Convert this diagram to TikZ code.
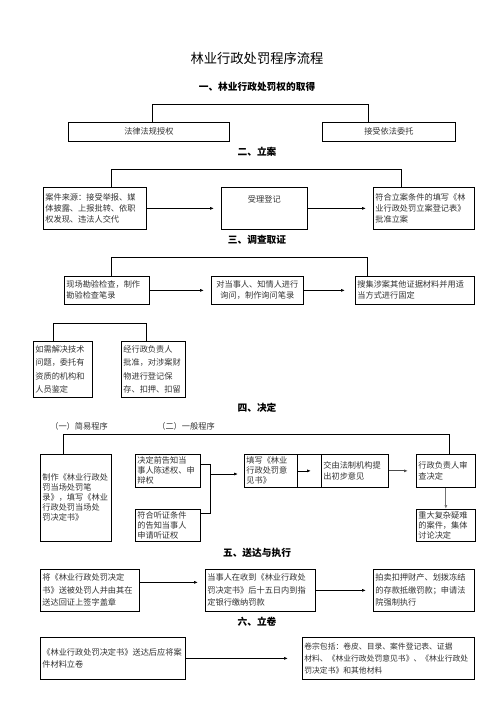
\documentclass[tikz,border=0pt]{standalone}
\usepackage{fontspec}
\setmainfont{Noto Sans CJK SC}
\usepackage{tikz}
\usetikzlibrary{calc}
\usetikzlibrary{arrows.meta}

\begin{document}
\begin{tikzpicture}[x=1pt,y=-1pt,
        box/.style={draw,line width=0.7pt,anchor=north west,inner sep=2pt,align=left,
            font=\fontsize{8.2}{11}\selectfont,text=black!80},
        head/.style={font=\fontsize{9.7}{11}\selectfont\bfseries},
        fleche/.style={-{Latex[length=4pt,width=3pt]},line width=0.7pt},
        crochet/.style={line width=0.7pt}]
    \useasboundingbox (0,0) rectangle (502,728);

    \node[font=\fontsize{13.3}{15}\selectfont] (titre) at (257,58) {林业行政处罚程序流程};

    % un
    \node[head] (h1) at (257,87) {一、林业行政处罚权的取得};
    \node[box,align=center,text width=157pt,minimum height=19pt] (loi) at (68,122) {法律法规授权};
    \node[box,align=center,text width=129pt,minimum height=19pt] (mandat) at (322,122) {接受依法委托};
    \draw[crochet] ($(loi.north west)!.52!(loi.north east)$) -- ++(0,-18) -| ($(mandat.north west)!.35!(mandat.north east)$);

    % deux
    \node[head] (h2) at (257,152) {二、立案};
    \node[box,text width=99pt,minimum height=42pt] (source) at (43,187) {案件来源：接受举报、媒\\体披露、上报批转、依职\\权发现、违法人交代};
    \node[box,align=center,text width=82pt,minimum height=42pt,text height=11pt,text depth=23pt] (enreg) at (221,187) {受理登记};
    \node[box,text width=97pt,minimum height=42pt] (dossier) at (373,187) {符合立案条件的填写《林\\业行政处罚立案登记表》\\批准立案};
    \draw[crochet] ($(source.north west)!.66!(source.north east)$) -- ++(0,-18) -| ($(dossier.north west)!.28!(dossier.north east)$);
    \draw[fleche,shorten >=7pt] (source) -- (enreg);
    \draw[fleche,shorten >=7pt] (enreg) -- (dossier);

    % trois
    \node[head] (h3) at (257,240) {三、调查取证};
    \node[box,text width=81pt,minimum height=28pt] (terrain) at (64,276) {现场勘验检查，制作\\勘验检查笔录};
    \node[box,align=center,text width=88pt,minimum height=28pt] (audition) at (211,276) {对当事人、知情人进行\\询问，制作询问笔录};
    \node[box,text width=115pt,minimum height=28pt] (preuves) at (355,276) {搜集涉案其他证据材料并用适\\当方式进行固定};
    \draw[crochet] ($(terrain.north west)!.55!(terrain.north east)$) -- ++(0,-19) -| ($(preuves.north west)!.10!(preuves.north east)$);
    \draw[fleche,shorten >=7pt] (terrain) -- (audition);
    \draw[fleche,shorten >=10pt] (audition) -- (preuves);
    \node[box,text width=55pt,minimum height=56pt,font=\fontsize{8.2}{13.5}\selectfont] (expert) at (33,341) {如需解决技术\\问题，委托有\\资质的机构和\\人员鉴定};
    \node[box,text width=60pt,minimum height=56pt,font=\fontsize{8.2}{13.5}\selectfont] (saisie) at (121,341) {经行政负责人\\批准，对涉案财\\物进行登记保\\存、扣押、扣留};
    \draw[crochet] ($(expert.north west)!.34!(expert.north east)$) -- ++(0,-18) -| ($(saisie.north west)!.39!(saisie.north east)$);

    % quatre
    \node[head] (h4) at (257,408) {四、决定};
    \node[font=\fontsize{8.2}{10}\selectfont,text=black!80] (simple) at (79,426) {（一）简易程序};
    \node[font=\fontsize{8.2}{10}\selectfont,text=black!80] (general) at (186,426) {（二）一般程序};
    \node[box,text width=67pt,minimum height=87pt,font=\fontsize{8.2}{10}\selectfont] (surplace) at (40,454) {制作《林业行政处\\罚当场处罚笔\\录》，填写《林业\\行政处罚当场处\\罚决定书》};
    \node[box,text width=61pt,minimum height=33pt,font=\fontsize{8.2}{10}\selectfont] (avis) at (135,454) {决定前告知当\\事人陈述权、申\\辩权};
    \node[box,text width=61pt,minimum height=32pt,font=\fontsize{8.2}{10}\selectfont] (ecoute) at (135,509) {符合听证条件\\的告知当事人\\申请听证权};
    \node[box,text width=49pt,minimum height=33pt,font=\fontsize{8.2}{10}\selectfont] (opinion) at (244,454) {填写《林业\\行政处罚意\\见书》};
    \node[box,text width=63pt,minimum height=33pt,font=\fontsize{8.2}{10.5}\selectfont] (juriste) at (321,454) {交由法制机构提\\出初步意见};
    \node[box,text width=55pt,minimum height=33pt,font=\fontsize{8.2}{10.5}\selectfont] (chef) at (416,454) {行政负责人审\\查决定};
    \node[box,text width=55pt,minimum height=32pt,font=\fontsize{8.2}{10}\selectfont] (collectif) at (416,509) {重大复杂疑难\\的案件，集体\\讨论决定};
    \draw[crochet] ($(surplace.north west)!.32!(surplace.north east)$) -- ++(0,-20) -| ($(chef.north west)!.56!(chef.north east)$);
    \draw[crochet] ($(avis.north east)+(0,10)$) -- ++(10,0) |- ($(ecoute.north east)+(0,4)$);
    \coordinate (fourche) at ($(avis.north east)+(10,20)$);
    \draw[fleche,shorten >=6pt] (fourche) -- (fourche -| opinion.west);
    \draw[crochet] (opinion.north east) -- (juriste.north west);
    \draw[crochet] (opinion.south east) -- (juriste.south west);
    \draw[fleche,shorten >=10pt] (opinion) -- (juriste);
    \draw[fleche,line width=1.1pt,black!70,shorten >=8pt] (juriste) -- (chef);
    \draw[fleche,line width=1.1pt,black!55] (chef) -- (collectif);

    % cinq
    \node[head] (h5) at (257,553) {五、送达与执行};
    \node[box,text width=95pt,minimum height=42pt,font=\fontsize{8.2}{12.5}\selectfont] (remise) at (40,569) {将《林业行政处罚决定\\书》送被处罚人并由其在\\送达回证上签字盖章};
    \node[box,text width=106pt,minimum height=42pt,font=\fontsize{8.2}{12.5}\selectfont] (amende) at (205,569) {当事人在收到《林业行政处\\罚决定书》后十五日内到指\\定银行缴纳罚款};
    \node[box,text width=97pt,minimum height=42pt,font=\fontsize{8.2}{12.5}\selectfont] (force) at (373,569) {拍卖扣押财产、划拨冻结\\的存款抵缴罚款；申请法\\院强制执行};
    \coordinate (rq) at ([yshift=8pt]remise.east);
    \draw[fleche,shorten >=7pt] (rq) -- (rq -| amende.west);
    \draw[fleche,shorten >=7pt] (amende) -- (force);

    % six
    \node[head] (h6) at (257,622) {六、立卷};
    \node[box,text width=141pt,minimum height=42pt,font=\fontsize{8.2}{12}\selectfont] (classe) at (40,637) {《林业行政处罚决定书》送达后应将案\\件材料立卷};
    \node[box,text width=168pt,minimum height=42pt,font=\fontsize{7.8}{12}\selectfont] (contenu) at (302,637) {卷宗包括：卷皮、目录、案件登记表、证据\\材料、《林业行政处罚意见书》、《林业行政处\\罚决定书》和其他材料};
    \draw[fleche,shorten >=14pt] (classe) -- (contenu);
\end{tikzpicture}
\end{document}
